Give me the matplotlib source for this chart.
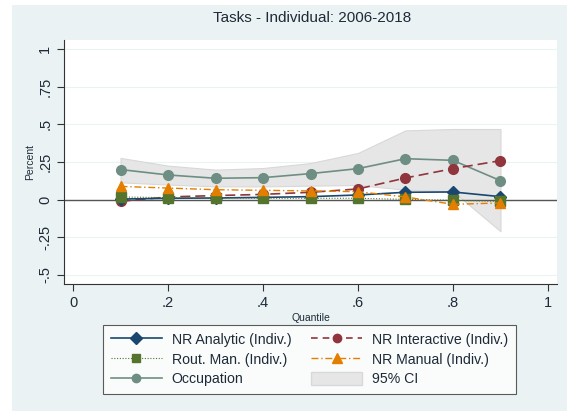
import numpy as np
import matplotlib.pyplot as plt
from matplotlib.patches import Rectangle, Patch
from matplotlib.lines import Line2D

plt.rcParams['font.family'] = ['Liberation Sans', 'DejaVu Sans']

## DATA ##
quantile = [0.1, 0.2, 0.3, 0.4, 0.5, 0.6, 0.7, 0.8, 0.9]
nr_analytic = [0.004, 0.009, 0.011, 0.015, 0.020, 0.031, 0.049, 0.051, 0.020]
nr_interactive = [-0.011, 0.018, 0.027, 0.035, 0.049, 0.071, 0.144, 0.206, 0.259]
rout_manual = [0.018, 0.013, 0.011, 0.009, 0.009, 0.009, 0.002, -0.004, -0.012]
nr_manual = [0.088, 0.077, 0.066, 0.062, 0.058, 0.053, 0.018, -0.031, -0.022]
occupation = [0.200, 0.164, 0.142, 0.146, 0.173, 0.206, 0.272, 0.261, 0.126]
ci_upper = [0.277, 0.226, 0.199, 0.210, 0.243, 0.310, 0.460, 0.469, 0.469]
ci_lower = [0.115, 0.100, 0.088, 0.088, 0.093, 0.097, 0.066, 0.055, -0.210]

xticks = [0, 0.2, 0.4, 0.6, 0.8, 1]
xticklabels = ['0', '.2', '.4', '.6', '.8', '1']
yticks = [-0.5, -0.25, 0, 0.25, 0.5, 0.75, 1]
yticklabels = ['-.5', '-.25', '0', '.25', '.5', '.75', '1']

navy = '#1a476f'
maroon = '#90353b'
green = '#55752f'
orange = '#e37e00'
teal = '#6e8e84'
bg = '#eaf2f3'
txt = '#1e2a38'

fig = plt.figure(figsize=(5.67, 4.11), dpi=100)
fig.patches.append(Rectangle((12/567, 0), 1, 1 - 5/411, transform=fig.transFigure,
                             facecolor=bg, edgecolor='none', zorder=-10))
ax = fig.add_axes([64/567, 1 - 284/411, (557 - 64)/567, (284 - 40)/411])
ax.set_facecolor('white')

ax.fill_between(quantile, ci_lower, ci_upper, color='#e6e6e6', edgecolor='#d8d8d8',
                linewidth=0.8, zorder=1)
ax.axhline(0, color='#555555', lw=1.0, zorder=2)
for yv in yticks:
    ax.axhline(yv, color=bg, lw=0.8, zorder=0.5)

ax.plot(quantile, nr_analytic, color=navy, marker='D', ms=6, lw=1.2, zorder=5)
ax.plot(quantile, nr_interactive, color=maroon, marker='o', ms=7, lw=1.2,
        dashes=(6, 3), zorder=4)
ax.plot(quantile, rout_manual, color=green, marker='s', ms=6.5, lw=0.8,
        linestyle=(0, (1, 1.5)), zorder=6)
ax.plot(quantile, nr_manual, color=orange, marker='^', ms=7, lw=1.0,
        linestyle=(0, (5, 2, 1, 2)), zorder=7)
ax.plot(quantile, occupation, color=teal, marker='o', ms=7, lw=1.2, zorder=3)

ax.set_xlim(-0.019, 1.019)
ax.set_ylim(-0.56, 1.06)
ax.set_xticks(xticks)
ax.set_xticklabels(xticklabels, fontsize=10.5, color=txt)
ax.set_yticks(yticks)
ax.set_yticklabels(yticklabels, fontsize=10.5, color=txt, rotation=90, va='center')
ax.tick_params(color='#333333', length=5, width=0.8)
for s in ['top', 'right']:
    ax.spines[s].set_visible(False)
for s in ['left', 'bottom']:
    ax.spines[s].set_color('#333333')
    ax.spines[s].set_linewidth(0.8)
ax.set_xlabel('Quantile', fontsize=7.5, color=txt, labelpad=2)
ax.set_ylabel('Percent', fontsize=7.5, color=txt, labelpad=2)
fig.text(0.55, 1 - 18/411, 'Tasks - Individual: 2006-2018', ha='center', va='center',
         fontsize=11, color=txt)

handles = [
    Line2D([], [], color=navy, marker='D', ms=6, lw=1.2),
    Line2D([], [], color=green, marker='s', ms=6, lw=0.8, linestyle=(0, (1, 1.5))),
    Line2D([], [], color=teal, marker='o', ms=6, lw=1.2),
    Line2D([], [], color=maroon, marker='o', ms=6, lw=1.2, dashes=(4, 3)),
    Line2D([], [], color=orange, marker='^', ms=7, lw=1.0, linestyle=(0, (5, 2, 1, 2))),
    Patch(facecolor='#e6e6e6', edgecolor='#d8d8d8'),
]
labels = ['NR Analytic (Indiv.)', 'Rout. Man. (Indiv.)', 'Occupation',
          'NR Interactive (Indiv.)', 'NR Manual (Indiv.)', '95% CI']
leg = fig.legend(handles, labels, ncol=2, loc='upper left',
                 bbox_to_anchor=(103/567, 1 - 325/411),
                 fontsize=10.2, frameon=True, fancybox=False,
                 handlelength=3.6, handleheight=1.0, borderpad=0.55, labelspacing=0.38,
                 columnspacing=1.4, handletextpad=0.7, borderaxespad=0)
leg.get_frame().set_edgecolor('#333333')
leg.get_frame().set_linewidth(0.8)
for t in leg.get_texts():
    t.set_color(txt)

fig.savefig('out.png', dpi=100)
